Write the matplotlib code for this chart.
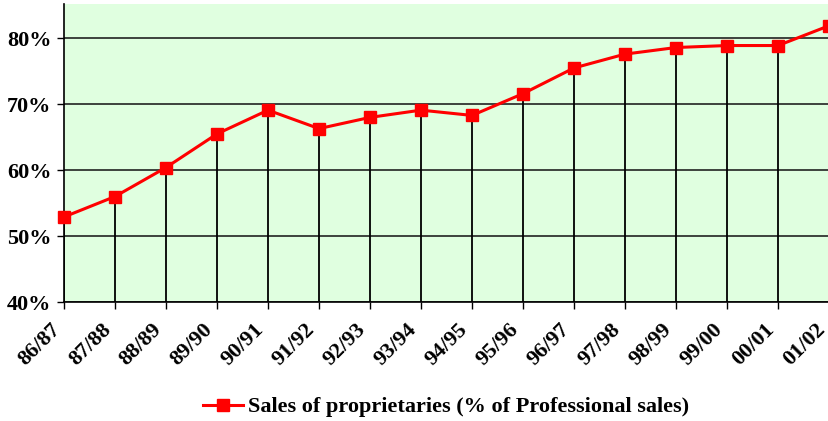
import matplotlib
matplotlib.use('Agg')
import matplotlib.pyplot as plt
from matplotlib.ticker import PercentFormatter

seasons = ['86/87', '87/88', '88/89', '89/90', '90/91', '91/92', '92/93', '93/94',
           '94/95', '95/96', '96/97', '97/98', '98/99', '99/00', '00/01', '01/02']
share = [52.9, 56.0, 60.4, 65.5, 69.1, 66.3, 68.0, 69.1,
         68.3, 71.6, 75.5, 77.6, 78.6, 78.9, 78.9, 81.9]
y_ticks = [40, 50, 60, 70, 80]

plt.rcParams['font.family'] = ['Liberation Serif', 'DejaVu Serif']
plt.rcParams['font.weight'] = 'bold'

fig = plt.figure(figsize=(8.29, 4.21), dpi=100)
ax = fig.add_axes([64 / 829, 119 / 421, 1 - 64 / 829, 298 / 421])
ax.set_facecolor('#e0ffe0')

x = list(range(len(seasons)))
ax.vlines(x, 40, share, color='black', lw=1.3, zorder=2)
ax.plot(x, share, color='#ff0000', lw=2.2, marker='s', markersize=8,
        label='Sales of proprietaries (% of Professional sales)', zorder=3,
        clip_on=False)

ax.set_xlim(0, len(seasons) - 1)
ax.set_ylim(40, 85.2)
ax.set_yticks(y_ticks)
ax.yaxis.set_major_formatter(PercentFormatter(decimals=0))
ax.yaxis.grid(True, color='#222222', lw=1.2)
ax.set_axisbelow(True)

ax.set_xticks(x)
ax.set_xticklabels(seasons, rotation=45, ha='right', va='top')
ax.tick_params(axis='both', labelsize=16, length=5, width=1, direction='out')
ax.tick_params(axis='x', pad=8)
ax.tick_params(axis='y', pad=4)

for s in ['top', 'right']:
    ax.spines[s].set_visible(False)
ax.spines['left'].set_linewidth(1.2)
ax.spines['bottom'].set_linewidth(1.2)

fig.legend(loc='center', bbox_to_anchor=(0.538, 0.033), frameon=False,
           fontsize=16, handlelength=1.8, handletextpad=0.2)

fig.savefig('out.png', dpi=100)
